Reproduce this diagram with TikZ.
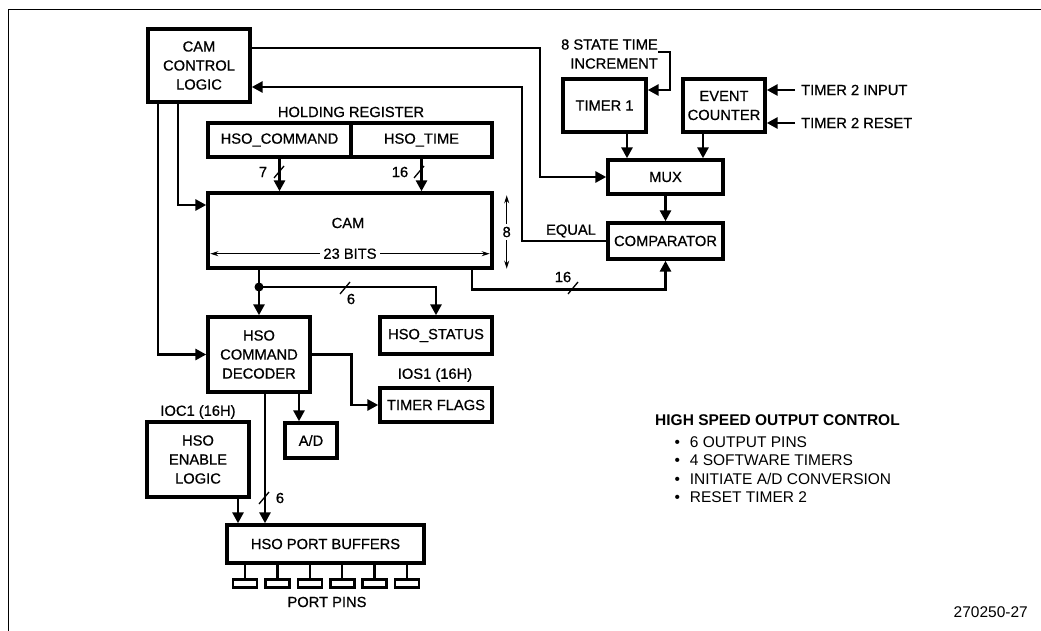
\documentclass[tikz,border=0pt]{standalone}
\usepackage{fontspec}
\setmainfont{Liberation Sans}
\newfontfamily\diagfont{Liberation Sans}[FakeBold=0.7]
\usetikzlibrary{arrows.meta,calc}
\tikzset{bitslash/.pic={\draw[line width=1.3pt] (-5,6) -- (5,-6);}}
\begin{document}
\begin{tikzpicture}[x=1pt,y=-1pt,
  every node/.style={font=\diagfont\fontsize{14.7}{19}\selectfont, inner sep=0pt},
  blk/.style={draw, line width=3.4pt, align=center},
  wire/.style={line width=2.8pt},
  conn/.style={wire, -{Triangle[length=11pt,width=11pt]}},
  dim/.style={line width=1.1pt, {Stealth[length=8pt,width=5pt]}-{Stealth[length=8pt,width=5pt]}},
  portpin/.style={draw, line width=2.6pt, minimum width=24pt, minimum height=8pt},
  note/.style={font=\fontsize{15.5}{19}\selectfont, anchor=west}
]
\useasboundingbox (0,0) rectangle (1041,631);
% frame
\draw[line width=1.8pt] (8.5,631) -- (8.5,9.5) -- (1041,9.5);

% blocks
\node[blk, minimum width=102pt, minimum height=73pt] (ccl) at (199,65.5) {CAM\\CONTROL\\LOGIC};
\node (hreg) at (351,112) {HOLDING REGISTER};
\node[blk, minimum width=143pt, minimum height=34pt] (hcmd) at (279.5,140) {HSO\_COMMAND};
\node[blk, minimum width=141pt, minimum height=34pt] (htime) at (421.5,140) {HSO\_TIME};
\node[blk, minimum width=284pt, minimum height=75pt] (cam) at (350,230.5) {};
\node (camlbl) at (348,223) {CAM};
\node[blk, minimum width=83pt, minimum height=53pt] (timer1) at (604.5,105.5) {TIMER 1};
\node[blk, minimum width=82pt, minimum height=53pt] (evc) at (724,105.5) {EVENT\\COUNTER};
\node[blk, minimum width=115pt, minimum height=34pt] (mux) at (665.5,177) {MUX};
\node[blk, minimum width=115pt, minimum height=36pt] (comp) at (665.5,241) {COMPARATOR};
\node[blk, minimum width=102pt, minimum height=75pt] (dec) at (259,354.5) {HSO\\COMMAND\\DECODER};
\node[blk, minimum width=112pt, minimum height=37pt] (status) at (436,335.5) {HSO\_STATUS};
\node[blk, minimum width=112pt, minimum height=34pt] (tflags) at (436,405) {TIMER FLAGS};
\node[blk, minimum width=52pt, minimum height=35pt] (ad) at (311,440.5) {A/D};
\node[blk, minimum width=102pt, minimum height=75pt] (enable) at (198,459.5) {HSO\\ENABLE\\LOGIC};
\node[blk, minimum width=197pt, minimum height=38pt] (pbuf) at (325.5,544) {HSO PORT BUFFERS};

% labels
\node (ios1) at (435,375) {IOS1 (16H)};
\node (ioc1) at (198,412) {IOC1 (16H)};
\node (pp) at (327,602) {PORT PINS};
\node (eq) at (571,231) {EQUAL};
\node[align=right, anchor=east] (incr) at (658,54) {8 STATE TIME\\INCREMENT};
\node[anchor=west, inner xsep=6pt] (t2in) at (795,90) {TIMER 2 INPUT};
\node[anchor=west, inner xsep=6pt] (t2rs) at (795,123) {TIMER 2 RESET};

% CAM dimension arrows
\draw[dim] ([shift={(4pt,16pt)}]cam.south west) -- node[fill=white, inner xsep=3pt] (bits) {23 BITS} ([shift={(-4pt,16pt)}]cam.south east);
\draw[dim] ([shift={(13pt,-4pt)}]cam.north east) -- node[fill=white, inner ysep=3pt] (eight) {8} ([shift={(13pt,1pt)}]cam.south east);

% connectors
\draw[conn] ([yshift=17.5pt]ccl.east) -- (540,48) |- (mux.west);
\draw[conn] (comp.west) -| (522,87) -- ([yshift=-21.5pt]ccl.east);
\draw[conn] ([xshift=-21pt]ccl.south) |- ([yshift=25.5pt]cam.west);
\draw[conn] ([xshift=-41pt]ccl.south) |- (dec.west);
\draw[conn] (hcmd.south) -- (hcmd.south |- cam.north);
\draw[conn] (htime.south) -- (htime.south |- cam.north);
\coordinate (j) at (259,287);
\draw[conn] (cam.south -| dec.north) -- (dec.north);
\draw[conn] (j) -| (status.north);
\fill (j) circle (4.5pt);
\draw[conn] (dec.east) -- ++(40,0) |- (tflags.west);
\draw[conn] ([xshift=40pt]dec.south) -- ([xshift=-12pt]ad.north);
\draw[conn] ([xshift=6pt]dec.south) -- ([xshift=-60.5pt]pbuf.north);
\draw[conn] ([xshift=40pt]enable.south) -- ([xshift=-87.5pt]pbuf.north);
\draw[conn] ([xshift=122pt]cam.south) -- ++(0,20) -| (comp.south);
\draw[conn] ([xshift=22.5pt]timer1.south) -- ([xshift=-38.5pt]mux.north);
\draw[conn] ([xshift=-21pt]evc.south) -- ([xshift=37.5pt]mux.north);
\draw[conn] (mux.south) -- (comp.north);
\draw[conn] ([yshift=2pt]incr.east) -- ++(12,0) |- ([yshift=15.5pt]timer1.east);
\draw[conn] (t2in.west) -- ([yshift=15.5pt]evc.east);
\draw[conn] (t2rs.west) -- ([yshift=-17.5pt]evc.east);

% bus width marks
\pic at (279,172) {bitslash};
\node (w7) at (263,172) {7};
\pic at (419,172) {bitslash};
\node (w16a) at (400,172) {16};
\pic at (345,288) {bitslash};
\node (w6a) at (351,299) {6};
\pic at (264,498) {bitslash};
\node (w6b) at (280,498) {6};
\pic at (573,288) {bitslash};
\node (w16b) at (563,277) {16};

% port pins
\foreach \i in {0,...,5} {
  \node[portpin] (pin\i) at ({245+32.4*\i},583.5) {};
  \draw[line width=2.4pt] (pin\i.north |- pbuf.south) -- (pin\i.north);
}

% notes
\node[note, font=\fontsize{15.5}{19}\selectfont\bfseries] (title) at (655,420) {HIGH SPEED OUTPUT CONTROL};
\node[note] (b1) at (674.3,442) {\textbullet\hspace{10pt}6 OUTPUT PINS};
\node[note] (b2) at (674.3,460.5) {\textbullet\hspace{10pt}4 SOFTWARE TIMERS};
\node[note] (b3) at (674.3,479) {\textbullet\hspace{10pt}INITIATE A/D CONVERSION};
\node[note] (b4) at (674.3,497.5) {\textbullet\hspace{10pt}RESET TIMER 2};
\node[note, anchor=east] (fig) at (1028,612) {270250-27};
\end{tikzpicture}
\end{document}
